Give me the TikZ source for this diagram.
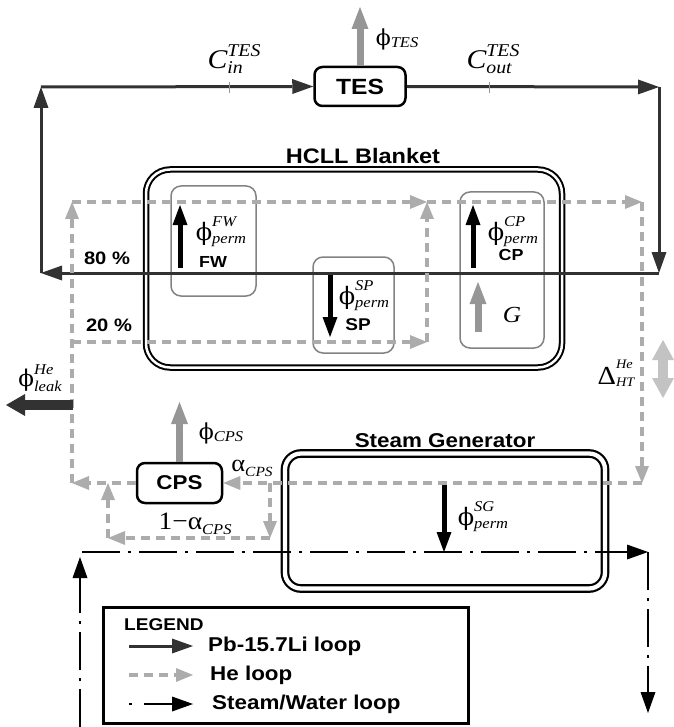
\documentclass[tikz,border=0pt]{standalone}
\usepackage{fontspec}
\setmainfont{Liberation Serif}[FakeStretch=1.1]
\setsansfont{Liberation Sans}[FakeStretch=1.12]
\newfontfamily\phifont{DejaVu Serif}
\usetikzlibrary{arrows.meta,positioning}
\definecolor{pbgray}{RGB}{50,50,50}
\definecolor{hegray}{RGB}{172,172,172}
\definecolor{fluxgray}{RGB}{150,150,150}
\definecolor{boxgray}{RGB}{130,130,130}
\definecolor{deltagray}{RGB}{195,195,195}
\tikzset{
    % Component boxes
    unitbox/.style={
        draw, rounded corners=8pt, line width=2.5pt,
        minimum width=91pt, minimum height=39pt, inner sep=0pt,
        font=\fontsize{22}{22}\selectfont\sffamily\bfseries
    },
    partbox/.style={draw=boxgray, line width=1.5pt, rounded corners=10pt, inner sep=0pt},
    vesselbox/.style={draw=black, double=white, double distance=2.5pt,
        line width=2pt, inner sep=0pt},
    % Text styles
    boldtext/.style={font=\fontsize{#1}{#1}\selectfont\sffamily\bfseries, inner sep=0pt},
    symtext/.style={font=\fontsize{#1}{#1}\selectfont, inner sep=0pt},
}
\tikzset{
    % Loop lines
    pbline/.style={-{Triangle[length=21pt,width=15pt,line width=0pt]}, line width=3pt, pbgray},
    heline/.style={-{Triangle[length=17pt,width=14pt,line width=0pt]}, line width=3.5pt,
        hegray, dash pattern=on 9pt off 6pt},
    steamline/.style={-{Triangle[length=21pt,width=15pt,line width=0pt]}, line width=2.2pt,
        black, dash pattern=on 38pt off 8pt on 3pt off 8pt},
    % Flux arrows
    fluxarrow/.style={-{Triangle[length=22pt,width=17pt,line width=0pt]}, line width=7pt, fluxgray},
    permarrow/.style={-{Triangle[length=20pt,width=15pt,line width=0pt]}, line width=5pt, black},
    leakarrow/.style={-{Triangle[length=19pt,width=22pt,line width=0pt]}, line width=10pt, pbgray},
    deltaarrow/.style={{Triangle[length=20pt,width=22pt,line width=0pt]}-{Triangle[length=20pt,width=22pt,line width=0pt]},
        line width=10pt, deltagray},
    tick/.style={line width=0.8pt, fluxgray},
}
\newcommand{\supsub}[5]{#1\raisebox{#5}{#4\selectfont\itshape\begin{tabular}[b]{@{}l@{}}#2\\#3\end{tabular}}}
\newcommand{\subonly}[4]{#1\raisebox{#4}{#3\selectfont\itshape #2}}

\begin{document}
\begin{tikzpicture}[x=1pt,y=-1pt]
  \useasboundingbox (0,0) rectangle (673,727);
  % vessels and components
  \node[vesselbox, minimum width=416pt, minimum height=198pt, rounded corners=24pt] (blanket) at (354,268.5) {};
  \node[vesselbox, double distance=4.3pt, line width=2.2pt, minimum width=320pt, minimum height=135pt,
        rounded corners=16pt] (sg) at (445,521) {};
  \node[unitbox] (tes) at (360,86.5) {TES};
  \node[unitbox, minimum width=85pt, minimum height=40pt, font=\fontsize{20}{20}\selectfont\sffamily\bfseries] (cps) at (179.5,483) {CPS};
  \node[partbox, minimum width=85pt, minimum height=110pt] (fw) at (213.5,241) {};
  \node[partbox, minimum width=81pt, minimum height=96pt] (sp) at (353.5,305) {};
  \node[partbox, minimum width=84pt, minimum height=156pt] (cp) at (502,270) {};
  \node[boldtext=21] (blankettitle) at (363,156) {HCLL Blanket};
  \node[boldtext=20, above=5pt of sg] (sgtitle) {Steam Generator};

  % Pb-15.7Li loop
  \coordinate (pbtl) at (41,87);
  \coordinate (pbtr) at (659,87);
  \coordinate (pbbr) at (659,273);
  \coordinate (pbbl) at (41,273);
  \draw[pbline] (pbtl) -- (tes.west);
  \draw[pbline] (tes.east) -- (pbtr);
  \draw[pbline] (pbtr) -- (pbbr);
  \draw[pbline] (pbbr) -- (pbbl);
  \draw[pbline] (pbbl) -- (pbtl);
  \coordinate (tickina) at (229,82);  \coordinate (tickinb) at (229,93);
  \coordinate (tickouta) at (489,82); \coordinate (tickoutb) at (489,93);
  \draw[tick] (tickina) -- (tickinb);
  \draw[tick] (tickouta) -- (tickoutb);

  % He loop
  \coordinate (helt) at (72,202);
  \coordinate (hemt) at (427,202);
  \coordinate (hert) at (642,202);
  \coordinate (herb) at (642,483);
  \coordinate (helm) at (72,342);
  \coordinate (hemb) at (427,342);
  \coordinate (helb) at (72,483);
  \draw[heline] (helb) -- (helt);
  \draw[heline] (helt) -- (hemt);
  \draw[heline] (hemt) -- (hert);
  \draw[heline] (hert) -- (herb);
  \draw[heline] (helm) -- (hemb);
  \draw[heline] (hemb) -- (hemt);
  \draw[heline] (herb) -- (cps.east);
  \draw[heline] (cps.west) -- (helb);
  \coordinate (bya) at (270,483);
  \coordinate (byb) at (270,538);
  \coordinate (byc) at (108,538);
  \coordinate (byd) at (108,483);
  \draw[heline] (bya) -- (byb);
  \draw[heline] (byb) -- (byc);
  \draw[heline] (byc) -- (byd);

  % Steam/Water loop
  \coordinate (stl) at (82,552);
  \coordinate (str) at (648,552);
  \coordinate (stbr) at (648,713);
  \coordinate (stbl) at (80,727);
  \coordinate (sttip) at (80,557);
  \draw[steamline] (stl) -- (str);
  \draw[steamline] (str) -- (stbr);
  \draw[steamline] (stbl) -- (sttip);

  % fluxes
  \coordinate (testip) at (360,7);
  \coordinate (cpstip) at (179.5,402);
  \coordinate (gbase) at (478,332);   \coordinate (gtip) at (478,282);
  \coordinate (fwbase) at (180,268);  \coordinate (fwtip) at (180,205);
  \coordinate (spbase) at (330,275);  \coordinate (sptip) at (330,337);
  \coordinate (cpbase) at (473,268);  \coordinate (cptip) at (473,205);
  \coordinate (sgbase) at (444,485);  \coordinate (sgtip) at (444,552);
  \coordinate (leakbase) at (73,405); \coordinate (leaktip) at (6,405);
  \coordinate (dtop) at (663,340);    \coordinate (dbot) at (663,398);
  \draw[fluxarrow] (tes.north) -- (testip);
  \draw[fluxarrow] (cps.north) -- (cpstip);
  \draw[fluxarrow] (gbase) -- (gtip);
  \draw[permarrow] (fwbase) -- (fwtip);
  \draw[permarrow] (spbase) -- (sptip);
  \draw[permarrow] (cpbase) -- (cptip);
  \draw[permarrow] (sgbase) -- (sgtip);
  \draw[leakarrow] (leakbase) -- (leaktip);
  \draw[deltaarrow] (dtop) -- (dbot);

  % labels
  \node[symtext=27] (cin) at (234,62) {\supsub{\itshape C}{TES}{in}{\fontsize{18}{17}}{-5pt}};
  \node[symtext=27] (cout) at (493,62) {\supsub{\itshape C}{TES}{out}{\fontsize{18}{17}}{-5pt}};
  \node[symtext=22] (testxt) at (397,39) {\subonly{{\phifont ϕ}}{TES}{\fontsize{15}{15}}{-2pt}};
  \node[symtext=24] (fwflux) at (221,232) {\supsub{{\phifont ϕ}}{FW}{perm}{\fontsize{15}{17}}{-3pt}};
  \node[symtext=24] (spflux) at (364,296) {\supsub{{\phifont ϕ}}{SP}{perm}{\fontsize{15}{17}}{-3pt}};
  \node[symtext=24] (cpflux) at (513,232) {\supsub{{\phifont ϕ}}{CP}{perm}{\fontsize{15}{17}}{-3pt}};
  \node[symtext=24] (sgflux) at (483,517) {\supsub{{\phifont ϕ}}{SG}{perm}{\fontsize{15}{17}}{-3pt}};
  \node[boldtext=16] (fwname) at (213,262) {FW};
  \node[boldtext=17] (spname) at (358,325) {SP};
  \node[boldtext=16] (cpname) at (511,255) {CP};
  \node[symtext=23] (gname) at (512,315) {\itshape G};
  \node[boldtext=18] (pct80) at (107,258) {80 \%};
  \node[boldtext=18] (pct20) at (109,325) {20 \%};
  \node[symtext=23] (leak) at (40,380) {\supsub{{\phifont ϕ}}{He}{leak}{\fontsize{15}{17}}{-5pt}};
  \node[symtext=26] (deltaht) at (616,374) {\supsub{Δ}{He}{HT}{\fontsize{13}{18}}{-2pt}};
  \node[symtext=22] (cpsflux) at (221,433) {\subonly{{\phifont ϕ}}{CPS}{\fontsize{15}{15}}{-2pt}};
  \node[symtext=24] (alphacps) at (252,468) {\subonly{α}{CPS}{\fontsize{14}{14}}{-5pt}};
  \node[symtext=25] (bypass) at (195,524) {\subonly{1−α}{CPS}{\fontsize{15}{15}}{-5pt}};

  % legend
  \node[draw, line width=3pt, minimum width=365pt, minimum height=116pt, inner sep=0pt] (legend) at (285.5,665) {};
  \node[boldtext=17, anchor=west] (legendtitle) at (124,625) {LEGEND};
  \coordinate (lgpba) at (129,646);   \coordinate (lgpbb) at (193,646);
  \coordinate (lghea) at (129,675);   \coordinate (lgheb) at (193,675);
  \coordinate (lgsta) at (129,704);   \coordinate (lgstb) at (193,704);
  \draw[pbline] (lgpba) -- (lgpbb);
  \draw[heline] (lghea) -- (lgheb);
  \draw[steamline, dash pattern=on 3pt off 12pt on 60pt off 0pt] (lgsta) -- (lgstb);
  \node[boldtext=20, right=15pt of lgpbb] (lgpbtext) {Pb-15.7Li loop};
  \node[boldtext=20, right=17pt of lgheb] (lghetext) {He loop};
  \node[boldtext=20, right=19pt of lgstb] (lgsttext) {Steam/Water loop};
\end{tikzpicture}
\end{document}
